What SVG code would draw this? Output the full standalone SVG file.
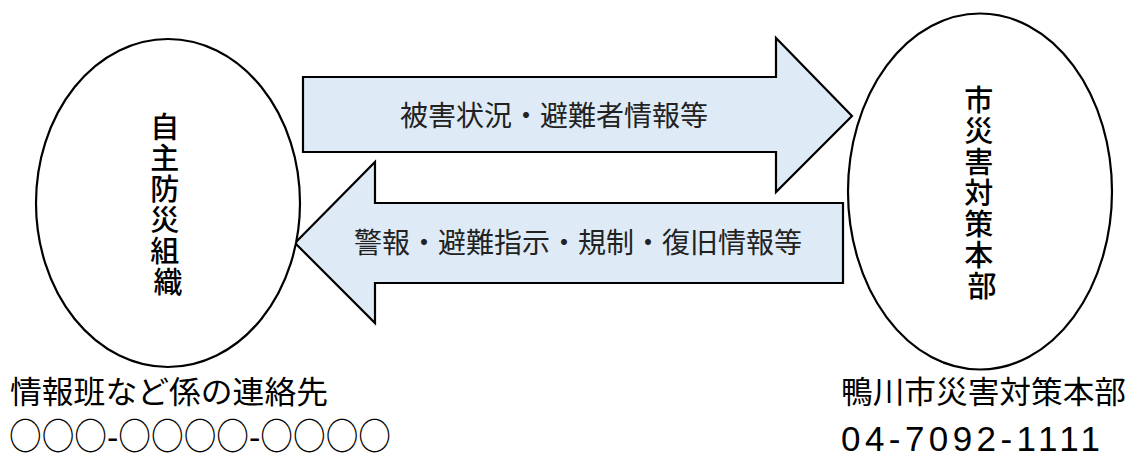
<svg xmlns="http://www.w3.org/2000/svg" width="1132" height="454" viewBox="0 0 1132 454">
<style>
.node{fill:#ffffff;stroke:#000000;stroke-width:2.2}
.arrow{fill:#DEEBF7;stroke:#000000;stroke-width:2.2;stroke-linejoin:miter}
.vt{font-family:"Noto Sans CJK JP","Noto Sans CJK SC",sans-serif;font-size:29px;font-weight:500;fill:#000;text-anchor:middle}
.at{font-family:"Noto Sans CJK JP","Noto Sans CJK SC",sans-serif;font-size:28px;fill:#222;text-anchor:middle}
.bt{font-family:"Noto Sans CJK JP","Noto Sans CJK SC",sans-serif;font-size:31px;fill:#000}
.circ{font-family:"Noto Sans CJK JP","Noto Sans CJK SC",sans-serif;font-size:37px;fill:#000}
.num{font-family:"Liberation Sans","Noto Sans CJK JP",sans-serif;font-size:35px;fill:#000}
</style>
<rect width="1132" height="454" fill="#ffffff"/>
<g id="connectors">
  <g id="arrow-up">
    <polygon class="arrow" points="303,77 776,77 776,38 852,116 776,192 776,152 303,152"/>
    <text class="at" x="554" y="126">被害状況・避難者情報等</text>
  </g>
  <g id="arrow-down">
    <polygon class="arrow" points="843,203 375,203 375,162 295,243 375,323 375,283 843,283"/>
    <text class="at" x="578" y="253">警報・避難指示・規制・復旧情報等</text>
  </g>
</g>
<g id="node-left">
  <ellipse class="node" cx="168" cy="203" rx="132" ry="164"/>
  <text class="vt">
    <tspan x="168" y="138">自</tspan>
    <tspan x="168" y="169">主</tspan>
    <tspan x="168" y="200">防</tspan>
    <tspan x="168" y="231">災</tspan>
    <tspan x="168" y="262">組</tspan>
    <tspan x="168" y="293">織</tspan>
  </text>
</g>
<g id="node-right">
  <ellipse class="node" cx="980" cy="191.5" rx="132" ry="178"/>
  <text class="vt">
    <tspan x="982" y="111">市</tspan>
    <tspan x="982" y="142">災</tspan>
    <tspan x="982" y="173">害</tspan>
    <tspan x="982" y="204">対</tspan>
    <tspan x="982" y="235">策</tspan>
    <tspan x="982" y="266">本</tspan>
    <tspan x="982" y="297">部</tspan>
  </text>
</g>
<g id="label-left">
  <text class="bt" x="10" y="403" textLength="318" lengthAdjust="spacingAndGlyphs">情報班など係の連絡先</text>
  <text class="circ" x="9" y="450" textLength="382" lengthAdjust="spacingAndGlyphs">○○○-○○○○-○○○○</text>
</g>
<g id="label-right">
  <text class="bt" x="841" y="403" textLength="285" lengthAdjust="spacingAndGlyphs">鴨川市災害対策本部</text>
  <text class="num" x="841" y="451" textLength="259" lengthAdjust="spacing">04-7092-1111</text>
</g>
</svg>
